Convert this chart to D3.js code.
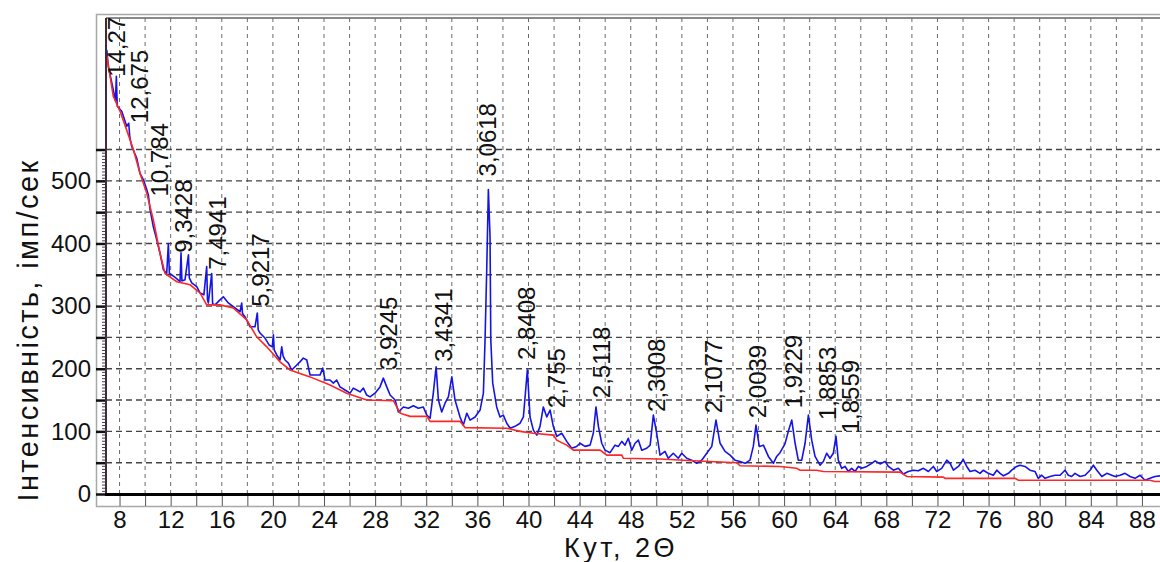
<!DOCTYPE html>
<html>
<head>
<meta charset="utf-8">
<script src="https://cdnjs.cloudflare.com/ajax/libs/d3/7.8.5/d3.min.js"></script>
<style>
  body { margin: 0; background: #fff; }
  svg text { font-family: "Liberation Sans", Arial, sans-serif; fill: #111; }
</style>
</head>
<body>
<script>
// рентгенограма: кут 2Θ (градуси) -> інтенсивність (імп/сек)
// values

// blue line, measured pattern [2θ, counts]
const measured = [
  [7.00,709],[7.12,683],[7.51,645],[7.68,628],[7.75,667],[7.82,619],[8.17,611],[8.56,587],[8.72,592],[8.80,570],
  [8.95,555],[9.35,536],[9.60,512],[9.86,502],[10.13,486],[10.25,478],[10.39,454],[10.64,427],[10.91,406],[11.17,384],
  [11.43,358],[11.69,352],[11.82,400],[11.90,352],[12.08,350],[12.40,345],[12.73,339],[12.81,385],[12.88,340],[13.12,342],
  [13.39,382],[13.46,345],[13.65,337],[14.04,331],[14.30,321],[14.60,318],[14.82,363],[14.88,310],[14.95,305],[15.21,352],
  [15.28,304],[15.47,302],[15.86,310],[16.12,315],[16.51,305],[16.90,299],[17.43,291],[17.56,305],[17.62,288],[17.82,283],
  [18.21,267],[18.60,267],[18.78,289],[18.85,262],[18.99,257],[19.38,249],[19.70,238],[19.95,235],[20.04,254],[20.10,230],
  [20.30,222],[20.56,214],[20.69,235],[20.80,220],[20.95,214],[21.21,209],[21.47,198],[21.87,206],[22.12,211],[22.38,217],
  [22.65,214],[22.91,190],[23.30,190],[23.69,190],[23.90,201],[24.08,182],[24.47,182],[24.73,177],[24.99,182],[25.25,171],
  [25.64,166],[26.04,161],[26.29,169],[26.56,166],[26.82,163],[27.08,169],[27.34,158],[27.60,155],[27.99,161],[28.38,171],
  [28.64,185],[28.91,171],[29.17,158],[29.56,150],[29.82,131],[30.21,139],[30.60,137],[30.99,141],[31.38,137],[31.77,139],
  [32.04,126],[32.30,121],[32.55,161],[32.77,203],[32.95,150],[33.21,131],[33.47,145],[33.73,155],[34.00,187],[34.25,150],
  [34.64,123],[34.90,110],[35.17,129],[35.43,118],[35.82,123],[36.21,134],[36.47,161],[36.60,246],[36.73,358],[36.86,486],
  [36.99,411],[37.05,246],[37.20,177],[37.51,139],[37.77,123],[38.03,126],[38.30,113],[38.56,105],[38.95,108],[39.34,113],
  [39.60,123],[39.91,198],[40.12,123],[40.38,102],[40.65,94],[40.90,108],[41.16,139],[41.43,123],[41.69,134],[41.94,108],
  [42.21,92],[42.60,97],[42.99,84],[43.38,73],[43.77,76],[44.03,81],[44.42,76],[44.82,78],[45.07,97],[45.28,139],
  [45.47,108],[45.73,81],[45.99,70],[46.38,66],[46.77,78],[47.03,76],[47.30,84],[47.55,78],[47.81,89],[48.08,70],
  [48.34,81],[48.60,86],[48.86,70],[49.25,73],[49.52,78],[49.77,126],[50.03,97],[50.29,62],[50.68,68],[50.94,57],
  [51.33,65],[51.72,57],[51.99,65],[52.38,57],[52.77,54],[53.16,49],[53.55,54],[53.95,65],[54.34,76],[54.67,118],
  [54.99,81],[55.38,68],[55.77,62],[56.16,54],[56.55,52],[56.94,49],[57.33,54],[57.59,76],[57.80,110],[58.06,76],
  [58.38,78],[58.77,60],[59.16,49],[59.42,60],[59.68,66],[60.07,80],[60.33,100],[60.60,118],[60.86,81],[61.11,54],
  [61.38,54],[61.64,81],[61.90,126],[62.16,86],[62.42,60],[62.81,46],[63.07,52],[63.33,65],[63.59,57],[63.85,65],
  [64.06,92],[64.24,54],[64.51,41],[64.77,44],[65.03,36],[65.29,41],[65.55,36],[65.81,44],[66.07,41],[66.47,44],
  [66.86,49],[67.12,53],[67.51,48],[67.90,52],[68.16,44],[68.55,38],[68.94,41],[69.33,32],[69.72,36],[70.11,38],
  [70.50,37],[70.90,41],[71.29,36],[71.68,44],[71.94,36],[72.33,41],[72.73,54],[72.99,49],[73.25,38],[73.64,44],
  [74.02,55],[74.29,44],[74.55,36],[74.94,38],[75.33,33],[75.59,38],[75.98,33],[76.37,30],[76.64,38],[76.90,33],
  [77.16,29],[77.55,33],[77.81,38],[78.20,44],[78.46,46],[78.85,44],[79.24,38],[79.63,36],[79.89,25],[80.16,30],
  [80.42,25],[80.81,28],[81.20,30],[81.59,30],[81.98,38],[82.24,30],[82.50,28],[82.76,33],[83.16,28],[83.55,30],
  [83.94,38],[84.20,46],[84.47,38],[84.86,28],[85.25,33],[85.64,30],[85.90,28],[86.29,30],[86.68,33],[87.07,28],
  [87.46,25],[87.85,30],[88.24,22],[88.63,25],[89.02,28],[89.41,29]
];

// red line, background [2θ, counts]
const background = [
  [7.00,700],[7.51,635],[8.04,611],[8.56,581],[9.08,550],[9.60,512],[10.13,480],[10.64,438],[11.17,384],[11.56,352],
  [12.48,339],[13.52,334],[14.30,321],[14.82,302],[15.86,302],[16.90,297],[17.95,278],[18.73,251],[19.52,235],[20.56,211],
  [21.34,198],[22.91,187],[24.47,174],[25.77,161],[27.34,150],[29.43,149],[29.95,129],[30.73,124],[32.04,124],[32.30,116],
  [34.64,116],[35.04,106],[38.30,105],[39.34,100],[40.38,97],[41.94,94],[42.21,86],[42.99,78],[43.51,70],[45.60,70],
  [46.12,62],[47.30,62],[47.42,57],[50.29,56],[52.90,53],[56.29,50],[56.55,45],[59.68,44],[60.98,41],[61.24,38],
  [62.55,38],[63.07,36],[69.07,35],[69.60,28],[72.46,27],[72.60,25],[78.07,25],[78.33,22],[88.63,22],[89.02,20],[89.41,20]
];

// міжплощинні відстані (d, Å) над піками
const peakNames = ["14,27","12,675","10,784","9,3428","7,4941","5,9217","3,9245","3,4341","3,0618",
                   "2,8408","2,755","2,5118","2,3008","2,1077","2,0039","1,9229","1,8853","1,8559"];
const peakAngle = [7.77, 9.60, 11.17, 13.05, 15.67, 19.07, 29.09, 33.39, 36.80,
                   39.86, 42.16, 45.68, 50.06, 54.52, 57.89, 60.71, 63.37, 65.17];
const peakLevel = [666, 592, 475, 385, 358, 299, 198, 211, 507,
                   214, 137, 153, 131, 129, 121, 137, 118, 97];

// axes
const xTickLabels = d3.range(8, 89, 4);   // 8, 12 ... 88
const xGrid = d3.range(8, 90, 2);
const yTickLabels = [0, 100, 200, 300, 400, 500];
const yGrid = [50, 100, 150, 200, 250, 300, 350, 400, 450, 500, 550];

const W = 1160, H = 562;
const plotLeft = 106, plotBottom = 494, plotTop = 18;

const svg = d3.select("body").append("svg")
  .attr("width", W).attr("height", H);

const x = d3.scaleLinear().domain([6.94, 90]).range([plotLeft, 1167.5]);
const y = d3.scaleLinear().domain([0, 760]).range([plotBottom, plotTop]);

// outer grey frame
svg.append("rect")
  .attr("x", 96.5).attr("y", 14.5)
  .attr("width", 1100).attr("height", 492)
  .attr("fill", "none").attr("stroke", "#a8a8a8").attr("stroke-width", 1.5);
svg.append("line")
  .attr("x1", plotLeft).attr("x2", W).attr("y1", plotTop).attr("y2", plotTop)
  .attr("stroke", "#8a8a8a").attr("stroke-width", 2);

// grid
svg.append("g").selectAll("line")
  .data(xGrid).enter().append("line")
  .attr("x1", d => x(d)).attr("x2", d => x(d))
  .attr("y1", plotTop).attr("y2", plotBottom)
  .attr("stroke", "#6a6a6a").attr("stroke-width", 1)
  .attr("stroke-dasharray", "4,4");

svg.append("g").selectAll("line")
  .data(yGrid).enter().append("line")
  .attr("x1", plotLeft).attr("x2", W)
  .attr("y1", d => y(d)).attr("y2", d => y(d))
  .attr("stroke", "#444").attr("stroke-width", 1.4)
  .attr("stroke-dasharray", "6,4");

// y axis: minor ticks, then major ticks with labels
const yMinor = svg.append("g").attr("transform", `translate(${plotLeft},0)`)
  .call(d3.axisLeft(y).tickValues(d3.range(0, 551, 5)).tickSize(4).tickFormat(""));
yMinor.select(".domain").remove();
yMinor.selectAll("line").attr("stroke", "#4a3a4a").attr("stroke-width", 1);

const yAxis = svg.append("g").attr("transform", `translate(${plotLeft},0)`)
  .call(d3.axisLeft(y).tickValues(yGrid.concat([0])).tickSize(10).tickPadding(5)
    .tickFormat(d => yTickLabels.includes(d) ? d : ""));
yAxis.select(".domain").remove();
yAxis.selectAll("line").attr("stroke", "#111").attr("stroke-width", 2.5);
yAxis.selectAll("text").style("font-size", "24px").attr("fill", "#111");

// x axis ticks below the line
const xAxis = svg.append("g").attr("transform", `translate(0,${plotBottom})`)
  .call(d3.axisBottom(x).tickValues(xGrid).tickSize(12).tickPadding(5)
    .tickFormat(d => xTickLabels.includes(d) ? d : ""));
xAxis.select(".domain").remove();
xAxis.selectAll("line").attr("stroke", "#555").attr("stroke-width", 1);
xAxis.selectAll("text").style("font-size", "24px").attr("fill", "#111");

// data lines, clipped to the plot
svg.append("clipPath").attr("id", "plot")
  .append("rect").attr("x", plotLeft).attr("y", plotTop)
  .attr("width", W - plotLeft).attr("height", plotBottom - plotTop);

const line = d3.line().x(d => x(d[0])).y(d => y(d[1]));

svg.append("path")
  .datum(measured)
  .attr("clip-path", "url(#plot)")
  .attr("fill", "none").attr("stroke", "#1414e6").attr("stroke-width", 1.6)
  .attr("stroke-linejoin", "round")
  .attr("d", line);

svg.append("path")
  .datum(background)
  .attr("clip-path", "url(#plot)")
  .attr("fill", "none").attr("stroke", "#ff2626").attr("stroke-width", 1.6)
  .attr("d", line);

// axis lines on top
svg.append("line")
  .attr("x1", plotLeft).attr("x2", plotLeft).attr("y1", plotTop).attr("y2", plotBottom)
  .attr("stroke", "#3c2c3c").attr("stroke-width", 2);
svg.append("line")
  .attr("x1", plotLeft - 1).attr("x2", W).attr("y1", plotBottom + 0.5).attr("y2", plotBottom + 0.5)
  .attr("stroke", "#000").attr("stroke-width", 3);

// d-spacing labels, rotated
svg.append("g").selectAll("text")
  .data(peakNames).enter().append("text")
  .attr("transform", (d, i) => `translate(${x(peakAngle[i])},${y(peakLevel[i])}) rotate(-90)`)
  .attr("dy", "0.35em")
  .style("font-size", "24px")
  .text(d => d);

// axis titles (a bit of letter spacing, the original is wider)
svg.append("text")
  .attr("transform", `translate(28,330) rotate(-90)`)
  .attr("text-anchor", "middle").attr("dy", "0.35em")
  .style("font-size", "29px").style("letter-spacing", "2.4px")
  .text("Інтенсивність, імп/сек");

svg.append("text")
  .attr("x", 621).attr("y", 557)
  .attr("text-anchor", "middle")
  .style("font-size", "27px").style("letter-spacing", "3.5px")
  .text("Кут, 2Θ");
</script>
</body>
</html>
